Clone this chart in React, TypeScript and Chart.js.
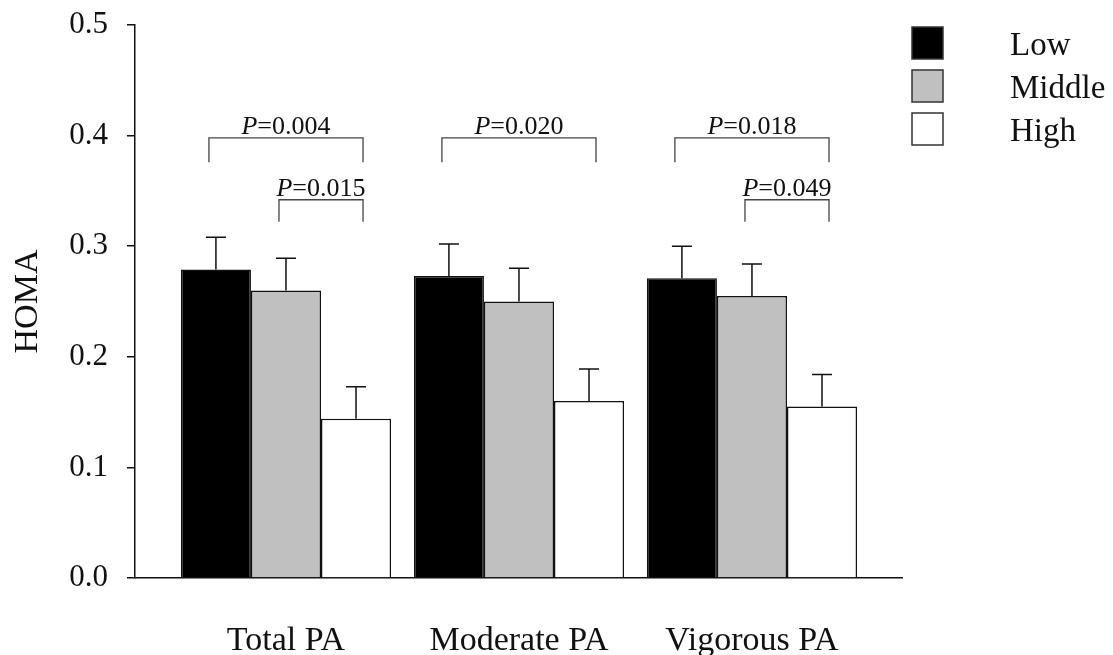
import React, { useEffect, useRef } from 'react';
import { Chart, registerables } from 'chart.js';

Chart.register(...registerables);

const categories = ['Total PA', 'Moderate PA', 'Vigorous PA'];
const seriesLabels = ['Low', 'Middle', 'High'];
const lowValues = [0.279, 0.273, 0.271];
const middleValues = [0.26, 0.25, 0.255];
const highValues = [0.144, 0.16, 0.155];
const lowErrors = [0.029, 0.029, 0.029];
const middleErrors = [0.029, 0.03, 0.029];
const highErrors = [0.029, 0.029, 0.029];
const yTickValues = [0, 0.1, 0.2, 0.3, 0.4, 0.5];

// significance brackets
const bracketCategory = [0, 0, 1, 2, 2];
const bracketFrom = [0, 1, 0, 0, 1];
const bracketTo = [2, 2, 2, 2, 2];
const bracketLevel = [0.398, 0.342, 0.398, 0.398, 0.342];
const bracketLeg = [0.376, 0.322, 0.376, 0.376, 0.322];
const bracketP = ['0.004', '0.015', '0.020', '0.018', '0.049'];

const FONT = "'Liberation Serif', 'Times New Roman', serif";
const fillColors = ['#000000', '#c0c0c0', '#ffffff'];

const errorBarPlugin = {
  id: 'errorBars',
  afterDatasetsDraw(chart: any) {
    const ctx = chart.ctx;
    const y = chart.scales.y;
    ctx.save();
    ctx.strokeStyle = '#111';
    ctx.lineWidth = 1.5;
    chart.data.datasets.forEach((ds: any, di: number) => {
      const meta = chart.getDatasetMeta(di);
      meta.data.forEach((bar: any, i: number) => {
        const v = ds.data[i].y;
        const top = y.getPixelForValue(v + ds.errors[i]);
        ctx.beginPath();
        ctx.moveTo(bar.x, bar.y);
        ctx.lineTo(bar.x, top);
        ctx.moveTo(bar.x - 10, top);
        ctx.lineTo(bar.x + 10, top);
        ctx.stroke();
      });
    });
    ctx.restore();
  },
};

const bracketPlugin = {
  id: 'brackets',
  afterDatasetsDraw(chart: any) {
    const ctx = chart.ctx;
    const y = chart.scales.y;
    ctx.save();
    bracketP.forEach((p, k) => {
      const c = bracketCategory[k];
      const x1 = chart.getDatasetMeta(bracketFrom[k]).data[c].x - 7;
      const x2 = chart.getDatasetMeta(bracketTo[k]).data[c].x + 7;
      const yl = y.getPixelForValue(bracketLevel[k]);
      const yg = y.getPixelForValue(bracketLeg[k]);
      ctx.strokeStyle = '#444';
      ctx.lineWidth = 1.3;
      ctx.beginPath();
      ctx.moveTo(x1, yg);
      ctx.lineTo(x1, yl);
      ctx.lineTo(x2, yl);
      ctx.lineTo(x2, yg);
      ctx.stroke();
      const italic = `italic 26px ${FONT}`;
      const normal = `26px ${FONT}`;
      ctx.font = italic;
      const wP = ctx.measureText('P').width;
      ctx.font = normal;
      const rest = '=' + p;
      const wR = ctx.measureText(rest).width;
      const start = (x1 + x2) / 2 - (wP + wR) / 2;
      ctx.fillStyle = '#111';
      ctx.textBaseline = 'alphabetic';
      ctx.textAlign = 'left';
      ctx.font = italic;
      ctx.fillText('P', start, yl - 4);
      ctx.font = normal;
      ctx.fillText(rest, start + wP, yl - 4);
    });
    ctx.restore();
  },
};

const legendPlugin = {
  id: 'customLegend',
  afterDraw(chart: any) {
    const ctx = chart.ctx;
    ctx.save();
    chart.data.datasets.forEach((ds: any, i: number) => {
      const bx = 912;
      const by = 27 + i * 43;
      ctx.fillStyle = ds.backgroundColor;
      ctx.fillRect(bx, by, 31, 32);
      ctx.strokeStyle = '#333';
      ctx.lineWidth = 1.5;
      ctx.strokeRect(bx, by, 31, 32);
      ctx.fillStyle = '#111';
      ctx.font = `33px ${FONT}`;
      ctx.textAlign = 'left';
      ctx.textBaseline = 'alphabetic';
      ctx.fillText(ds.label, 1010, by + 28);
    });
    ctx.restore();
  },
};

export default function App() {
  const ref = useRef<HTMLCanvasElement>(null);

  useEffect(() => {
    document.body.style.margin = '0';
    const values = [lowValues, middleValues, highValues];
    const errors = [lowErrors, middleErrors, highErrors];
    const chart = new Chart(ref.current as HTMLCanvasElement, {
      type: 'bar',
      data: {
        datasets: seriesLabels.map((label, s) => ({
          label,
          data: categories.map((_, i) => ({ x: i, y: values[s][i] })),
          errors: errors[s],
          backgroundColor: fillColors[s],
          borderColor: '#111',
          borderWidth: 1.5,
          barPercentage: 1,
          categoryPercentage: 0.902,
        })) as any,
      },
      options: {
        animation: false,
        responsive: false,
        devicePixelRatio: 1,
        layout: { padding: { left: 0, right: 211, top: 25, bottom: 0 } },
        plugins: {
          legend: { display: false },
          tooltip: { enabled: false },
        },
        scales: {
          x: {
            type: 'linear',
            min: -0.648,
            max: 2.644,
            offset: false,
            grid: { display: false, offset: false },
            border: { display: true, color: '#111', width: 1.5 },
            afterBuildTicks: (scale: any) => {
              scale.ticks = categories.map((_, i) => ({ value: i }));
            },
            afterFit: (scale: any) => {
              scale.height = 77;
              scale.paddingLeft = 0;
              scale.paddingRight = 0;
            },
            ticks: {
              autoSkip: false,
              maxRotation: 0,
              padding: 35,
              color: '#111',
              font: { family: FONT, size: 34 },
              callback: (v: any) => categories[Math.round(v)] ?? '',
            },
          },
          y: {
            min: 0,
            max: 0.5,
            afterBuildTicks: (scale: any) => {
              scale.ticks = yTickValues.map((v) => ({ value: v }));
            },
            afterFit: (scale: any) => {
              scale.width = 135;
              scale.paddingTop = 0;
              scale.paddingBottom = 0;
            },
            grid: {
              display: true,
              drawOnChartArea: false,
              drawTicks: true,
              tickLength: 8,
              color: '#111',
              lineWidth: 1.5,
            },
            border: { display: true, color: '#111', width: 1.5 },
            ticks: {
              padding: 19,
              color: '#111',
              font: { family: FONT, size: 31 },
              callback: (v: any) => Number(v).toFixed(1),
            },
            title: {
              display: true,
              text: 'HOMA',
              color: '#111',
              font: { family: FONT, size: 34 },
              padding: { top: 8, bottom: 0 },
            },
          },
        },
      },
      plugins: [errorBarPlugin, bracketPlugin, legendPlugin],
    } as any);
    return () => chart.destroy();
  }, []);

  return (
    <div style={{ width: 1113, height: 655, background: '#fff' }}>
      <canvas ref={ref} width={1113} height={655} style={{ display: 'block' }} />
    </div>
  );
}
